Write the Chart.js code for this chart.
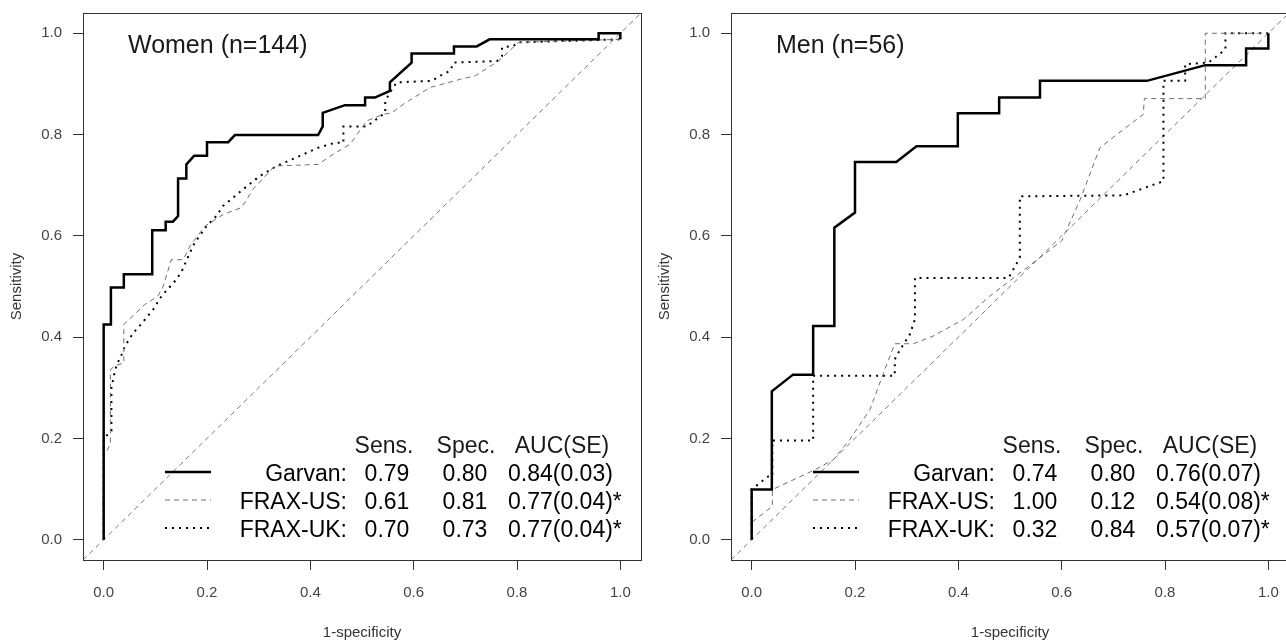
<!DOCTYPE html>
<html>
<head>
<meta charset="utf-8">
<script src="https://cdn.jsdelivr.net/npm/chart.js@4.4.0/dist/chart.umd.min.js"></script>
<style>
  html, body { margin: 0; padding: 0; background: #fff; overflow: hidden; width: 1286px; height: 642px; }
  canvas { position: absolute; top: 0; }
  #women { left: 0; }
  #men { left: 648px; }
</style>
</head>
<body>
<canvas id="women" width="643" height="642"></canvas>
<canvas id="men" width="643" height="642"></canvas>
<script>
// ---- data ----
const tickValues = [0, 0.2, 0.4, 0.6, 0.8, 1.0];
const seriesNames = ["Garvan:", "FRAX-US:", "FRAX-UK:"];
const refLine = [[-0.04, -0.04], [1.04, 1.04]];

const womenGarvan = [[0,0],[0,0.425],[0.014,0.425],[0.014,0.498],[0.039,0.498],[0.039,0.524],[0.094,0.524],[0.094,0.611],
  [0.120,0.611],[0.120,0.628],[0.134,0.628],[0.144,0.639],[0.144,0.713],[0.160,0.713],[0.160,0.741],[0.175,0.758],
  [0.200,0.758],[0.200,0.785],[0.241,0.785],[0.254,0.799],[0.415,0.799],[0.424,0.816],[0.424,0.843],[0.467,0.858],
  [0.506,0.858],[0.506,0.873],[0.525,0.873],[0.554,0.886],[0.554,0.903],[0.596,0.942],[0.596,0.960],[0.678,0.960],
  [0.678,0.974],[0.722,0.974],[0.747,0.988],[0.958,0.988],[0.958,1.0],[1.0,1.0],[1.0,0.988]];
const womenFraxUS = [[0,0],[0,0.165],[0.013,0.188],[0.013,0.336],[0.023,0.344],[0.039,0.349],[0.039,0.425],[0.079,0.464],
  [0.105,0.481],[0.115,0.500],[0.131,0.553],[0.154,0.553],[0.167,0.580],[0.196,0.619],[0.231,0.642],[0.267,0.656],
  [0.289,0.692],[0.331,0.738],[0.415,0.741],[0.444,0.761],[0.477,0.781],[0.509,0.827],[0.541,0.840],[0.558,0.843],
  [0.580,0.860],[0.632,0.893],[0.690,0.909],[0.719,0.916],[0.764,0.945],[0.803,0.982],[1.0,0.988]];
const womenFraxUK = [[0,0],[0,0.200],[0.015,0.215],[0.015,0.300],[0.020,0.325],[0.025,0.345],[0.035,0.366],[0.041,0.382],
  [0.057,0.408],[0.072,0.425],[0.096,0.455],[0.112,0.481],[0.141,0.514],[0.151,0.530],[0.167,0.567],[0.176,0.586],
  [0.199,0.619],[0.218,0.639],[0.231,0.659],[0.270,0.692],[0.302,0.718],[0.335,0.738],[0.380,0.758],[0.415,0.774],
  [0.448,0.784],[0.464,0.784],[0.464,0.816],[0.509,0.816],[0.545,0.843],[0.545,0.866],[0.554,0.883],[0.567,0.903],
  [0.635,0.906],[0.651,0.916],[0.671,0.926],[0.677,0.942],[0.761,0.945],[0.771,0.955],[0.771,0.972],[0.793,0.975],
  [0.803,0.982],[1.0,0.988]];

const menGarvan = [[0,0],[0,0.099],[0.039,0.099],[0.039,0.293],[0.080,0.326],[0.119,0.326],[0.119,0.422],[0.160,0.422],
  [0.160,0.616],[0.200,0.646],[0.200,0.746],[0.280,0.746],[0.319,0.777],[0.399,0.777],[0.399,0.842],[0.479,0.842],
  [0.479,0.873],[0.558,0.873],[0.558,0.906],[0.765,0.906],[0.878,0.937],[0.957,0.937],[0.957,0.970],[1.0,0.970],[1.0,1.0]];
const menFraxUS = [[0,0],[0,0.034],[0.040,0.066],[0.040,0.099],[0.122,0.138],[0.158,0.158],[0.190,0.198],[0.229,0.257],
  [0.254,0.326],[0.277,0.387],[0.313,0.387],[0.351,0.402],[0.410,0.435],[0.461,0.481],[0.600,0.590],[0.636,0.672],
  [0.674,0.774],[0.703,0.797],[0.758,0.840],[0.760,0.871],[0.878,0.871],[0.878,1.0],[1.0,1.0]];
const menFraxUK = [[0,0],[0,0.099],[0.012,0.109],[0.032,0.125],[0.040,0.125],[0.040,0.196],[0.119,0.196],[0.119,0.324],
  [0.277,0.324],[0.277,0.356],[0.287,0.375],[0.306,0.405],[0.316,0.435],[0.316,0.517],[0.497,0.517],[0.510,0.540],
  [0.519,0.557],[0.519,0.678],[0.720,0.680],[0.797,0.708],[0.797,0.906],[0.839,0.906],[0.839,0.939],[0.884,0.942],
  [0.917,0.968],[0.917,1.0],[1.0,1.0]];

const womenSens = ["0.79", "0.61", "0.70"];
const womenSpec = ["0.80", "0.81", "0.73"];
const womenAuc = ["0.84(0.03)", "0.77(0.04)*", "0.77(0.04)*"];
const menSens = ["0.74", "1.00", "0.32"];
const menSpec = ["0.80", "0.12", "0.84"];
const menAuc = ["0.76(0.07)", "0.54(0.08)*", "0.57(0.07)*"];

// ---- styling ----
const FONT = "'Liberation Sans', Arial, sans-serif";
const lineStyles = [
  { borderColor: "#000", borderWidth: 2.5, borderDash: [] },
  { borderColor: "#6e6e6e", borderWidth: 1, borderDash: [5, 4] },
  { borderColor: "#000", borderWidth: 2, borderDash: [2, 5] },
];

const toXY = pts => pts.map(p => ({ x: p[0], y: p[1] }));

// box, panel title and the little stats table
const rocNotes = {
  id: "rocNotes",
  afterDraw(chart, args, opts) {
    const { ctx, chartArea: a } = chart;
    ctx.save();
    ctx.strokeStyle = "#333";
    ctx.lineWidth = 1;
    ctx.strokeRect(Math.round(a.left) + 0.5, Math.round(a.top) + 0.5,
      Math.round(a.right - a.left), Math.round(a.bottom - a.top));

    ctx.fillStyle = "#1a1a1a";
    ctx.textBaseline = "alphabetic";
    ctx.font = "25px " + FONT;
    ctx.textAlign = "left";
    ctx.fillText(opts.title, a.left + 45, a.top + 40);

    ctx.font = "23px " + FONT;
    const headY = a.bottom - 107;
    ctx.textAlign = "center";
    ctx.fillText("Sens.", a.left + 301, headY);
    ctx.fillText("Spec.", a.left + 383, headY);
    ctx.fillText("AUC(SE)", a.left + 479, headY);

    const rowY = [a.bottom - 79, a.bottom - 51, a.bottom - 23];
    rowY.forEach((y, i) => {
      const st = lineStyles[i];
      ctx.beginPath();
      ctx.setLineDash(st.borderDash);
      ctx.strokeStyle = st.borderColor;
      ctx.lineWidth = st.borderWidth;
      ctx.moveTo(a.left + 82, y - 9);
      ctx.lineTo(a.left + 128, y - 9);
      ctx.stroke();
      ctx.setLineDash([]);
      ctx.fillStyle = "#000";
      ctx.textAlign = "right";
      ctx.fillText(seriesNames[i], a.left + 264, y);
      ctx.textAlign = "center";
      ctx.fillText(opts.sens[i], a.left + 304, y);
      ctx.fillText(opts.spec[i], a.left + 382, y);
      ctx.textAlign = "left";
      ctx.fillText(opts.auc[i], a.left + 425, y);
    });
    ctx.restore();
  }
};

function axis(kind, title) {
  return {
    type: "linear",
    min: -0.04,
    max: 1.04,
    bounds: "data",
    afterBuildTicks: s => { s.ticks = tickValues.map(v => ({ value: v })); },
    afterFit: s => {
      // fixed plot box, no extra room for overhanging tick labels
      if (kind === "x") { s.height = 82; s.paddingLeft = 0; s.paddingRight = 0; }
      else { s.width = 83; s.paddingTop = 0; s.paddingBottom = 0; }
    },
    ticks: {
      callback: v => v.toFixed(1),
      color: "#444",
      font: { family: FONT, size: 15 },
      padding: kind === "x" ? 14 : 11,
      autoSkip: false,
      maxRotation: 0,
    },
    grid: { drawOnChartArea: false, drawTicks: true, tickLength: 10, color: "#333", lineWidth: 1 },
    border: { display: true, color: "#333", width: 1 },
    title: {
      display: true,
      text: title,
      color: "#333",
      font: { family: FONT, size: 15 },
      padding: kind === "x" ? { top: 0, bottom: 0 } : { top: 8, bottom: 0 },
    },
  };
}

function makeRoc(id, title, garvan, fraxUS, fraxUK, sens, spec, auc) {
  const curves = [garvan, fraxUS, fraxUK];
  const datasets = curves.map((c, i) => ({
    label: seriesNames[i],
    data: toXY(c),
    ...lineStyles[i],
    pointRadius: 0,
    tension: 0,
    fill: false,
    order: i,
  }));
  datasets.push({
    label: "reference",
    data: toXY(refLine),
    borderColor: "#7a7a7a",
    borderWidth: 1,
    borderDash: [5, 4],
    pointRadius: 0,
    fill: false,
    order: 5,
  });
  new Chart(document.getElementById(id), {
    type: "line",
    data: { datasets },
    options: {
      responsive: false,
      animation: false,
      devicePixelRatio: 1,
      layout: { padding: { top: 13, right: 2, left: 0, bottom: 0 } },
      scales: { x: axis("x", "1-specificity"), y: axis("y", "Sensitivity") },
      plugins: {
        legend: { display: false },
        tooltip: { enabled: false },
        rocNotes: { title, sens, spec, auc },
      },
    },
    plugins: [rocNotes],
  });
}

makeRoc("women", "Women (n=144)", womenGarvan, womenFraxUS, womenFraxUK, womenSens, womenSpec, womenAuc);
makeRoc("men", "Men (n=56)", menGarvan, menFraxUS, menFraxUK, menSens, menSpec, menAuc);
</script>
</body>
</html>
